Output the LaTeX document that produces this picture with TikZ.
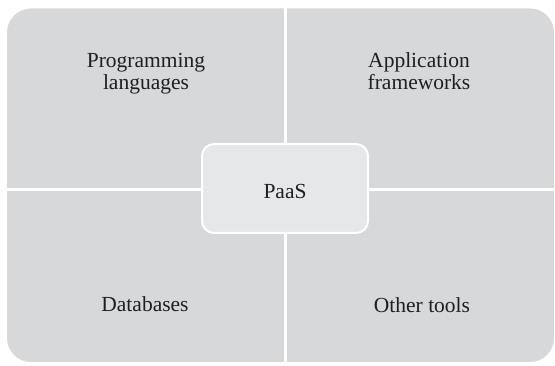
\documentclass[tikz,border=0pt]{standalone}
\usepackage{fontspec}
\setmainfont{Liberation Serif}
\begin{document}
\begin{tikzpicture}[x=1pt,y=-1pt,
  label/.style={font=\fontsize{21.5}{22}\selectfont, align=center, anchor=base, inner sep=0pt, text=black!88},
  divider/.style={draw=white, line width=3pt},
  centerbox/.style={draw=white, line width=2pt, fill=centergray, rounded corners=12pt}]
\definecolor{quadgray}{RGB}{215,216,218}
\definecolor{centergray}{RGB}{230,231,232}
\useasboundingbox[fill=white] (0,0) rectangle (555,366);
\fill[quadgray, rounded corners=24pt] (7,8.5) rectangle (554,362);
\coordinate (vt) at (285.5,8);
\coordinate (vb) at (285.5,363);
\coordinate (hl) at (6,189.5);
\coordinate (hr) at (555,189.5);
\draw[divider] (vt) -- (vb);
\draw[divider] (hl) -- (hr);
\draw[centerbox] (202,144) rectangle (368,233);
\node[label] (paas) at (285,199) {PaaS};
\node[label] (pl) at (146,90) {Programming\\languages};
\node[label] (af) at (419,90) {Application\\frameworks};
\node[label] (db) at (145,312) {Databases};
\node[label] (ot) at (422,313) {Other tools};
\end{tikzpicture}
\end{document}
